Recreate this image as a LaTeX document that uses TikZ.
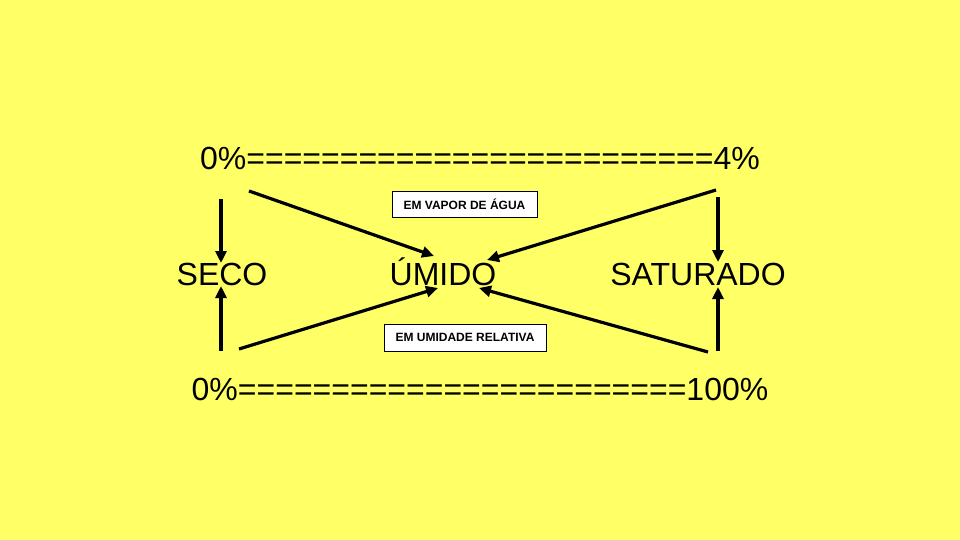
\documentclass[tikz,border=0pt]{standalone}
\usepackage{fontspec}
\setmainfont{Liberation Sans}
\usetikzlibrary{arrows.meta,positioning}

\definecolor{fundo}{RGB}{255,255,102}

\begin{document}
\begin{tikzpicture}[x=1pt, y=-1pt,
		>={Triangle[length=12pt,width=11pt]},
		seta/.style = {->, line width=3.2pt},
		escala/.style = {anchor=base, inner sep=0pt, font=\fontsize{32}{38}\selectfont},
		estado/.style = {anchor=base, inner sep=0pt, font=\fontsize{32}{38}\selectfont},
		caixa/.style = {draw, fill=white, line width=0.9pt, inner sep=0pt, font=\fontsize{12}{14}\selectfont\bfseries}
		]
		\fill[fundo] (0,0) rectangle (960,540);
		\useasboundingbox (0,0) rectangle (960,540);
		
		\node (agua) [escala] at (480,170) {0\%=========================4\%};
		\node (umidade) [escala] at (480,400) {0\%========================100\%};
		
		\node (seco) [estado] at (222,285) {SECO};
		\node (umido) [estado] at (443,285) {ÚMIDO};
		\node (saturado) [estado] at (698,285) {SATURADO};
		
		\node (vapor) [caixa, minimum width=145pt, minimum height=26pt] at (464.5,204) {EM VAPOR DE ÁGUA};
		\node (relativa) [caixa, minimum width=162pt, minimum height=27pt] at (465,337.5) {EM UMIDADE RELATIVA};
		
		% pontas livres das setas
		\coordinate (seco-a) at (221,199);   \coordinate (seco-n) at (221,263);
		\coordinate (seco-b) at (221,351);   \coordinate (seco-s) at (221,286);
		\coordinate (umido-a) at (249,191);  \coordinate (umido-no) at (434,256);
		\coordinate (umido-b) at (239,349);  \coordinate (umido-so) at (438,288);
		\coordinate (umido-c) at (716,190);  \coordinate (umido-ne) at (487,260);
		\coordinate (umido-d) at (708,352);  \coordinate (umido-se) at (479,288);
		\coordinate (sat-a) at (718,197);    \coordinate (sat-n) at (718,262);
		\coordinate (sat-b) at (718,351);    \coordinate (sat-s) at (718,287);
		
		\path[seta]
		(seco-a)  edge  (seco-n)
		(seco-b)  edge  (seco-s)
		(umido-a) edge  (umido-no)
		(umido-b) edge  (umido-so)
		(umido-c) edge  (umido-ne)
		(umido-d) edge  (umido-se)
		(sat-a)   edge  (sat-n)
		(sat-b)   edge  (sat-s);
		
\end{tikzpicture}
\end{document}
